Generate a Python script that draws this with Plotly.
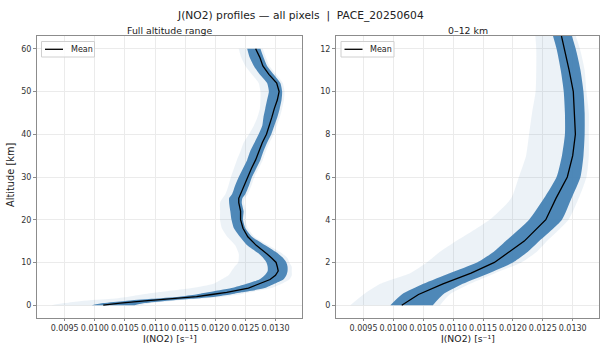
import plotly.graph_objects as go

# Altitude levels [km]
altitude = [0, 0.5, 1, 1.5, 2, 2.5, 3, 4, 5, 6, 7, 8, 9, 10, 11, 12,
            14, 16, 18, 20, 22, 24, 25, 26, 28, 30, 32, 34, 36, 38, 40,
            42, 44, 46, 48, 50, 52, 54, 56, 58, 60]

# Mean J(NO2) profile [s^-1]
jno2_mean = [0.01014, 0.01042, 0.01083, 0.01130, 0.01169, 0.01194, 0.01219, 0.01255,
             0.01272, 0.01291, 0.01300, 0.013045, 0.01303, 0.01301, 0.01294, 0.01286,
             0.01268, 0.01254, 0.01246, 0.01242, 0.01242, 0.01239, 0.01239, 0.01242,
             0.01247, 0.01253, 0.01260, 0.01267, 0.01272, 0.01278, 0.01285,
             0.01290, 0.01294, 0.01298, 0.01303, 0.01306, 0.01302, 0.01289, 0.01279,
             0.01274, 0.01267]

# Dense bulk of the pixel profiles (left / right edge)
jno2_dense_lo = [0.00995, 0.01014, 0.01050, 0.01094, 0.01140, 0.01168, 0.01188, 0.01227,
                 0.01252, 0.01273, 0.01282, 0.01287, 0.01287, 0.01285, 0.01280, 0.01273,
                 0.01253, 0.01241, 0.01231, 0.01227, 0.01225, 0.01223, 0.01223, 0.01228,
                 0.01233, 0.01239, 0.01246, 0.01253, 0.01258, 0.01265, 0.01272,
                 0.01278, 0.01280, 0.01283, 0.01286, 0.01289, 0.01286, 0.01274, 0.01264,
                 0.01257, 0.01253]
jno2_dense_hi = [0.01066, 0.01083, 0.01116, 0.01160, 0.01200, 0.01225, 0.01244, 0.01282,
                 0.01298, 0.01313, 0.01318, 0.01320, 0.01320, 0.01318, 0.01313, 0.01305,
                 0.01283, 0.01261, 0.01250, 0.01246, 0.01247, 0.01244, 0.01245, 0.01250,
                 0.01256, 0.01261, 0.01268, 0.01275, 0.01280, 0.01286, 0.01293,
                 0.01298, 0.01303, 0.01307, 0.01310, 0.01311, 0.01308, 0.01297, 0.01286,
                 0.01280, 0.01275]

# Full spread of all pixel profiles (min / max)
jno2_min = [0.00928, 0.00950, 0.00978, 0.01028, 0.01056, 0.01078, 0.01105, 0.01161,
            0.01197, 0.01210, 0.01222, 0.01227, 0.01232, 0.01238, 0.01239, 0.01239,
            0.01233, 0.01220, 0.01211, 0.01208, 0.01208, 0.01208, 0.01212, 0.01217,
            0.01222, 0.01226, 0.01231, 0.01236, 0.01242, 0.01247, 0.01256,
            0.01264, 0.01270, 0.01274, 0.01275, 0.01275, 0.01272, 0.01261, 0.01250,
            0.01243, 0.01239]
jno2_max = [0.01078, 0.01094, 0.01128, 0.01170, 0.01214, 0.01240, 0.01257, 0.01293,
            0.01310, 0.01323, 0.01327, 0.01327, 0.01327, 0.01323, 0.01320, 0.01312,
            0.01288, 0.01265, 0.01254, 0.01250, 0.01251, 0.01248, 0.01249, 0.01254,
            0.01260, 0.01265, 0.01272, 0.01279, 0.01284, 0.01290, 0.01297,
            0.01302, 0.01307, 0.01311, 0.01314, 0.01315, 0.01312, 0.01301, 0.01290,
            0.01284, 0.01279]

x_ticks = [0.0095, 0.0100, 0.0105, 0.0110, 0.0115, 0.0120, 0.0125, 0.0130]
y_ticks_full = [0, 10, 20, 30, 40, 50, 60]
y_ticks_low = [0, 2, 4, 6, 8, 10, 12]

W, H = 600, 343
FONT = "DejaVu Sans"
BLUE_FAINT = "rgba(70,130,180,0.10)"
BLUE_DENSE = "rgba(70,130,180,0.95)"

fig = go.Figure()

def band_line():
    return dict(width=0, shape="spline", smoothing=0.6)

for xa, ya in [("x", "y"), ("x2", "y2")]:
    fig.add_trace(go.Scatter(x=jno2_min, y=altitude, mode="lines", line=band_line(),
                             xaxis=xa, yaxis=ya, showlegend=False, hoverinfo="skip"))
    fig.add_trace(go.Scatter(x=jno2_max, y=altitude, mode="lines", line=band_line(),
                             fill="tonextx", fillcolor=BLUE_FAINT,
                             xaxis=xa, yaxis=ya, showlegend=False, hoverinfo="skip"))
    fig.add_trace(go.Scatter(x=jno2_dense_lo, y=altitude, mode="lines", line=band_line(),
                             xaxis=xa, yaxis=ya, showlegend=False, hoverinfo="skip"))
    fig.add_trace(go.Scatter(x=jno2_dense_hi, y=altitude, mode="lines", line=band_line(),
                             fill="tonextx", fillcolor=BLUE_DENSE,
                             xaxis=xa, yaxis=ya, showlegend=False, hoverinfo="skip"))
    fig.add_trace(go.Scatter(x=jno2_mean, y=altitude, mode="lines",
                             line=dict(color="black", width=1.3),
                             xaxis=xa, yaxis=ya, name="Mean", showlegend=False))

def px_x(p):
    return p / W

def px_y(p):
    return 1 - p / H

top, bottom = 36, 318
left_dom = [px_x(37), px_x(302)]
right_dom = [px_x(336), px_x(599)]
ydom = [px_y(bottom), px_y(top)]

axis_common = dict(showgrid=True, gridcolor="#ebebeb", gridwidth=1,
                   showline=True, linecolor="#8c8c8c", linewidth=1, mirror=True,
                   ticks="outside", tickcolor="#8c8c8c", automargin=False,
                   tickfont=dict(family=FONT, size=8, color="#333"), zeroline=False)
xaxis_extra = dict(ticklen=2, tickformat=".4f", tickangle=0, tickvals=x_ticks)

xr = [0.00904, 0.01344]
fig.update_layout(
    width=W, height=H,
    margin=dict(l=0, r=0, t=0, b=0, autoexpand=False),
    paper_bgcolor="white", plot_bgcolor="white",
    xaxis=dict(domain=left_dom, range=xr, anchor="y", **xaxis_extra, **axis_common),
    yaxis=dict(domain=ydom, range=[-3, 63], tickvals=y_ticks_full, ticklen=3, anchor="x",
               **axis_common),
    xaxis2=dict(domain=right_dom, range=xr, anchor="y2", **xaxis_extra, **axis_common),
    yaxis2=dict(domain=ydom, range=[-0.6, 12.6], tickvals=y_ticks_low, ticklen=3, anchor="x2",
                **axis_common),
    showlegend=False,
)

def label(text, x, y, size, **kw):
    d = dict(text=text, x=x, y=y, xref="paper", yref="paper", showarrow=False,
             xanchor="center", yanchor="middle",
             font=dict(family=FONT, size=size, color="#222"))
    d.update(kw)
    return d

ann = []
ann.append(label("J(NO2) profiles — all pixels  |  PACE_20250604", 0.5, px_y(15), 10.7))
ann.append(label("Full altitude range", (left_dom[0] + left_dom[1]) / 2, px_y(30.5), 9.4))
ann.append(label("0–12 km", (right_dom[0] + right_dom[1]) / 2, px_y(30.5), 9.4))
for dom in (left_dom, right_dom):
    ann.append(label("J(NO2) [s⁻¹]", (dom[0] + dom[1]) / 2, px_y(338), 9.3))
ann.append(label("Altitude [km]", px_x(10), px_y(175), 9.8, textangle=-90))

shapes = []
# manual legends
for x0 in (41.5, 341):
    shapes.append(dict(type="rect", xref="paper", yref="paper",
                       x0=px_x(x0), x1=px_x(x0 + 53), y0=px_y(57), y1=px_y(41.5),
                       line=dict(color="#d0d0d0", width=1), fillcolor="rgba(255,255,255,0.85)"))
    shapes.append(dict(type="line", xref="paper", yref="paper",
                       x0=px_x(x0 + 3.5), x1=px_x(x0 + 21.5), y0=px_y(49.3), y1=px_y(49.3),
                       line=dict(color="black", width=1.3)))
    ann.append(label("Mean", px_x(x0 + 27), px_y(49.3), 8, xanchor="left"))

fig.update_layout(annotations=ann, shapes=shapes)
fig.write_html("out.html", config={"displayModeBar": False},
               post_script="document.body.style.margin='0px';document.body.style.overflow='hidden';")
